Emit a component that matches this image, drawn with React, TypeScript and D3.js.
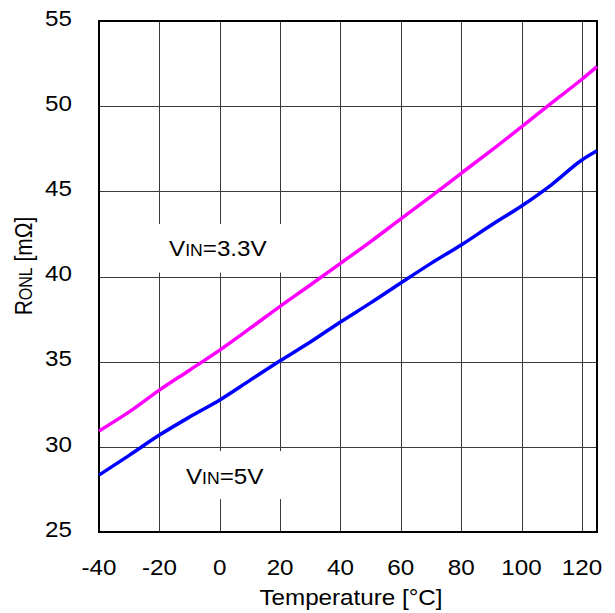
import React from 'react';
import * as d3 from 'd3';

// temperature points (°C)
const temps = [-40, -30, -20, -10, 0, 10, 20, 30, 40, 50, 60, 70, 80, 90, 100, 110, 120, 125];
// VIN = 3.3V, RONL in mOhm
const ron33 = [30.93, 32.05, 33.33, 34.5, 35.68, 36.95, 38.25, 39.5, 40.77, 42.05, 43.38, 44.7, 46.06, 47.4, 48.79, 50.2, 51.58, 52.32];
// VIN = 5V, RONL in mOhm
const ron5 = [28.34, 29.5, 30.69, 31.75, 32.75, 33.9, 35.05, 36.15, 37.33, 38.45, 39.62, 40.77, 41.85, 43.02, 44.14, 45.4, 46.84, 47.38];

const xTicks = [-40, -20, 0, 20, 40, 60, 80, 100, 120];
const yTicks = [25, 30, 35, 40, 45, 50, 55];

const W = 615;
const H = 613;
const margin = { left: 99, right: 18, top: 21, bottom: 81 };
const font = '"Liberation Sans", Arial, sans-serif';
const stretch = 1.1;

// text drawn a bit wider than the font, like the reference
function T({ x, y, anchor = 'start', baseline, children }: any) {
  return (
    <text transform={`translate(${x},${y}) scale(${stretch},1)`} fontSize={22} textAnchor={anchor}
      dominantBaseline={baseline} fill="#000">
      {children}
    </text>
  );
}

export default function App() {
  const x = d3.scaleLinear().domain([-40, 125]).range([margin.left, W - margin.right]);
  const y = d3.scaleLinear().domain([25, 55]).range([H - margin.bottom, margin.top]);

  const line = d3.line<number>()
    .x((d, i) => x(temps[i]))
    .y(d => y(d))
    .curve(d3.curveMonotoneX);

  const x0 = x.range()[0], x1 = x.range()[1];
  const y0 = y.range()[1], y1 = y.range()[0];

  return (
    <svg width={W} height={H} style={{ position: 'absolute', left: 0, top: 0, background: '#fff' }}
      fontFamily={font}>
      {/* grid */}
      {xTicks.map(t => (
        <line key={'gx' + t} x1={Math.round(x(t)) + 0.5} x2={Math.round(x(t)) + 0.5} y1={y0} y2={y1}
          stroke="#3a3a3a" strokeWidth={1} />
      ))}
      {yTicks.map(t => (
        <line key={'gy' + t} x1={x0} x2={x1} y1={Math.round(y(t)) + 0.5} y2={Math.round(y(t)) + 0.5}
          stroke="#3a3a3a" strokeWidth={1} />
      ))}

      {/* label boxes hide the grid behind them */}
      <rect x={x(-22)} y={y(43.08)} width={x(35) - x(-22)} height={y(40.23) - y(43.08)} fill="#fff" />
      <rect x={x(-18)} y={y(29.75)} width={x(35) - x(-18)} height={y(26.93) - y(29.75)} fill="#fff" />

      {/* frame */}
      <rect x={x0} y={y0} width={x1 - x0} height={y1 - y0} fill="none" stroke="#000" strokeWidth={2} />

      {/* curves */}
      <path d={line(ron33) || ''} fill="none" stroke="#ff00ff" strokeWidth={3.5} strokeLinejoin="round" />
      <path d={line(ron5) || ''} fill="none" stroke="#0000ff" strokeWidth={3.5} strokeLinejoin="round" />

      {/* annotations */}
      <T x={x(-16.8)} y={y(41.2)}>V<tspan fontSize={16}>IN</tspan>=3.3V</T>
      <T x={x(-11.2)} y={y(27.81)}>V<tspan fontSize={16}>IN</tspan>=5V</T>

      {/* tick labels */}
      {yTicks.map(t => (
        <T key={'ty' + t} x={72} y={y(t) - 1} anchor="end" baseline="middle">{t}</T>
      ))}
      {xTicks.map(t => (
        <T key={'tx' + t} x={x(t)} y={575} anchor="middle">{t}</T>
      ))}

      {/* axis titles */}
      <T x={351} y={605} anchor="middle">Temperature [°C]</T>
      <text transform="translate(32,266) rotate(-90) scale(1,1.12)" fontSize={21} textAnchor="middle">
        R<tspan fontSize={16}>ONL</tspan> [mΩ]
      </text>
    </svg>
  );
}
